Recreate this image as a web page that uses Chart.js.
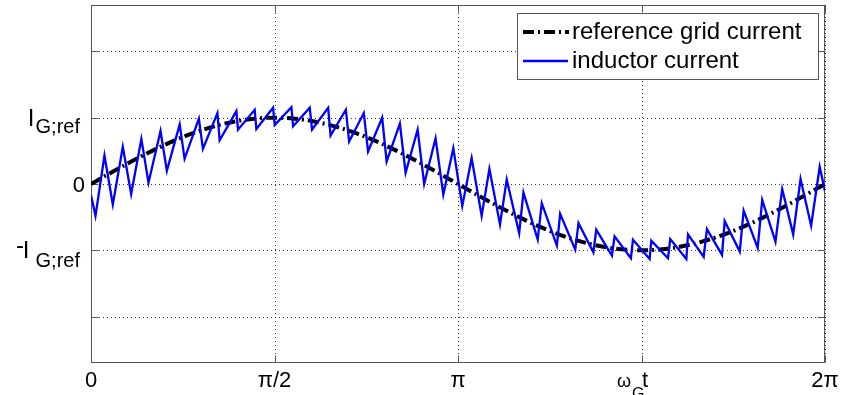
<!DOCTYPE html>
<html>
<head>
<meta charset="utf-8">
<script src="https://cdn.jsdelivr.net/npm/chart.js@4.4.0/dist/chart.umd.min.js"></script>
<style>
  html, body { margin: 0; padding: 0; background: #fff; }
  #wrap { width: 846px; height: 395px; }
</style>
</head>
<body>
<div id="wrap"><canvas id="myChart" width="846" height="395"></canvas></div>
<script>
// reference grid current, read every 10 degrees
var refDeg = [0,10,20,30,40,50,60,70,80,90,100,110,120,130,140,150,160,170,180,
              190,200,210,220,230,240,250,260,270,280,290,300,310,320,330,340,350,360];
var refVal = [0,0.174,0.342,0.5,0.643,0.766,0.866,0.94,0.985,1,0.985,0.94,0.866,0.766,0.643,0.5,0.342,0.174,0,
              -0.174,-0.342,-0.5,-0.643,-0.766,-0.866,-0.94,-0.985,-1,-0.985,-0.94,-0.866,-0.766,-0.643,-0.5,-0.342,-0.174,0];

// inductor current, corners of the ripple
var indDeg = [0,2.2,6.6,10.7,15.6,19.7,24.7,28.2,34.1,37.2,43.5,45.9,52.9,54.9,62.0,63.1,71.3,72.1,80.3,81.1,
              89.3,90.1,98.3,99.1,107.3,108.4,116.3,117.5,125.0,126.6,133.8,135.9,142.8,145.0,151.5,154.3,160.2,163.4,169.0,172.8,
              177.7,182.1,186.7,191.6,195.4,200.6,203.9,210.0,212.1,219.1,221.1,228.5,230.1,237.5,239.1,246.4,247.8,255.5,256.8,264.8,
              265.8,274.0,274.8,283.0,284.1,292.0,292.8,300.5,302.1,309.5,310.8,318.2,320.1,327.0,329.2,335.7,339.0,344.4,348.0,353.2,
              357.4,360];
var indVal = [-0.17,-0.48,0.43,-0.31,0.56,-0.15,0.68,0.02,0.80,0.20,0.90,0.38,0.985,0.53,1.07,0.66,1.10,0.82,1.12,0.83,
              1.15,0.89,1.16,0.87,1.15,0.82,1.15,0.73,1.12,0.64,1.07,0.49,1.0,0.34,0.91,0.17,0.82,0.0,0.69,-0.16,
              0.54,-0.33,0.39,-0.48,0.23,-0.61,0.065,-0.74,-0.13,-0.84,-0.29,-0.93,-0.45,-0.99,-0.59,-1.03,-0.69,-1.08,-0.79,-1.12,
              -0.84,-1.13,-0.855,-1.12,-0.83,-1.13,-0.76,-1.10,-0.68,-1.07,-0.56,-1.02,-0.40,-0.965,-0.24,-0.87,-0.075,-0.76,0.075,-0.63,
              0.26,-0.11];

var xTicks = [0,90,180,270,360];
var xTickLabels = ['0','\u03c0/2','\u03c0','','2\u03c0'];
var yTicks = [-2,-1,0,1,2];
var legendLabels = ['reference grid current','inductor current'];

var FONT = '"Liberation Sans", Arial, sans-serif';
var refDash = [11,4,2,4];

function pts(xs, ys){
    var out = [];
    for(let i = 0; i < xs.length; i++){
        out.push({x: xs[i], y: ys[i]});
    }
    return out;
}

// axes box, dotted grid, inner ticks, labels, legend (matlab look)
var matlabAxes = {
    id: 'matlabAxes',
    beforeDatasetsDraw: function(chart){
        var ctx = chart.ctx, a = chart.chartArea;
        var xs = chart.scales.x, ys = chart.scales.y;
        ctx.save();
        ctx.strokeStyle = '#333';
        ctx.lineWidth = 1;
        ctx.setLineDash([1,3]);
        yTicks.forEach(function(v){
            var py = Math.round(ys.getPixelForValue(v)) + 0.5;
            ctx.beginPath(); ctx.moveTo(a.left, py); ctx.lineTo(a.right, py); ctx.stroke();
        });
        xTicks.forEach(function(v){
            var px = Math.round(xs.getPixelForValue(v)) + 0.5;
            ctx.beginPath(); ctx.moveTo(px, a.top); ctx.lineTo(px, a.bottom); ctx.stroke();
        });
        ctx.setLineDash([]);
        ctx.strokeStyle = '#555';
        var l = Math.round(a.left) + 0.5, r = Math.round(a.right) - 0.5;
        var t = Math.round(a.top) + 0.5, b = Math.round(a.bottom) - 0.5;
        ctx.strokeRect(l, t, r - l, b - t);
        yTicks.forEach(function(v){
            var py = Math.round(ys.getPixelForValue(v)) + 0.5;
            ctx.beginPath();
            ctx.moveTo(l, py); ctx.lineTo(l + 7, py);
            ctx.moveTo(r, py); ctx.lineTo(r - 7, py);
            ctx.stroke();
        });
        xTicks.forEach(function(v){
            var px = Math.round(xs.getPixelForValue(v)) + 0.5;
            ctx.beginPath();
            ctx.moveTo(px, b); ctx.lineTo(px, b - 7);
            ctx.moveTo(px, t); ctx.lineTo(px, t + 7);
            ctx.stroke();
        });
        ctx.restore();
    },
    afterDraw: function(chart){
        var ctx = chart.ctx, a = chart.chartArea;
        var xs = chart.scales.x, ys = chart.scales.y;
        ctx.save();
        ctx.fillStyle = '#000';
        ctx.textBaseline = 'alphabetic';

        // x tick labels
        ctx.font = '22px ' + FONT;
        ctx.textAlign = 'center';
        xTicks.forEach(function(v, i){
            if(xTickLabels[i]) ctx.fillText(xTickLabels[i], xs.getPixelForValue(v), 387);
        });
        // x label omega_G t
        ctx.font = '18px ' + FONT;
        ctx.fillText('\u03c9', 624, 387);
        ctx.textAlign = 'left';
        ctx.font = '16px ' + FONT;
        ctx.fillText('G', 632, 399);
        ctx.font = '22px ' + FONT;
        ctx.fillText('t', 642, 387);

        // y tick labels
        var p1 = ys.getPixelForValue(1), p0 = ys.getPixelForValue(0), pm = ys.getPixelForValue(-1);
        ctx.textAlign = 'right';
        ctx.font = '22px ' + FONT;
        ctx.fillText('0', 85, p0 + 8);
        ctx.font = '20px ' + FONT;
        ctx.fillText('G;ref', 80, p1 + 15);
        ctx.fillText('G;ref', 80, pm + 17);
        ctx.font = '24px ' + FONT;
        ctx.textAlign = 'center';
        ctx.fillText('I', 31, p1 + 8.5);
        ctx.fillText('I', 26, pm + 8);
        ctx.fillText('-', 20, pm + 3);

        // legend
        var bx = 517.5, by = 13.5, bw = 301, bh = 66;
        ctx.fillStyle = '#fff';
        ctx.fillRect(bx, by, bw, bh);
        ctx.strokeStyle = '#555';
        ctx.lineWidth = 1;
        ctx.strokeRect(bx, by, bw, bh);

        ctx.strokeStyle = '#000';
        ctx.lineWidth = 4;
        ctx.setLineDash(refDash);
        ctx.beginPath(); ctx.moveTo(523, 32); ctx.lineTo(569, 32); ctx.stroke();
        ctx.setLineDash([]);
        ctx.strokeStyle = '#0000ff';
        ctx.lineWidth = 2.3;
        ctx.beginPath(); ctx.moveTo(523, 61); ctx.lineTo(568, 61); ctx.stroke();

        ctx.fillStyle = '#000';
        ctx.font = '24px ' + FONT;
        ctx.textAlign = 'left';
        ctx.textBaseline = 'middle';
        ctx.fillText(legendLabels[0], 572, 32);
        ctx.fillText(legendLabels[1], 572, 61);
        ctx.restore();
    }
};

new Chart('myChart', {
    type: 'line',
    data: {
        datasets: [{
            label: legendLabels[1],
            data: pts(indDeg, indVal),
            borderColor: '#0000ff',
            borderWidth: 2.3,
            pointRadius: 0,
            tension: 0,
            order: 0
        }, {
            label: legendLabels[0],
            data: pts(refDeg, refVal),
            borderColor: '#000',
            borderWidth: 4,
            borderDash: refDash,
            borderCapStyle: 'butt',
            pointRadius: 0,
            cubicInterpolationMode: 'monotone',
            order: 1
        }]
    },
    options: {
        responsive: false,
        animation: false,
        events: [],
        layout: { padding: { left: 91, right: 21, top: 5, bottom: 32 } },
        plugins: { legend: { display: false }, tooltip: { enabled: false } },
        scales: {
            x: { type: 'linear', min: 0, max: 360, display: false },
            y: { type: 'linear', min: -2.7, max: 2.7, display: false }
        }
    },
    plugins: [matlabAxes]
});
</script>
</body>
</html>
